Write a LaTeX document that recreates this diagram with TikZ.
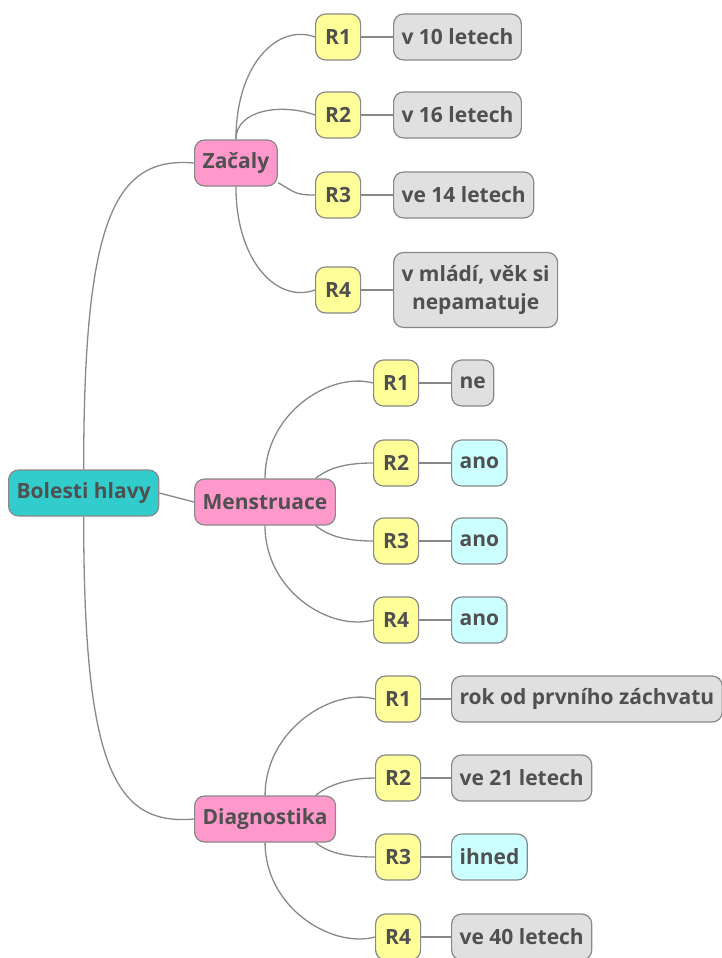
\documentclass[tikz,border=0pt]{standalone}
\usepackage{fontspec}
\setmainfont{Open Sans}
\definecolor{rootfill}{HTML}{33CCCC}
\definecolor{catfill}{HTML}{FF99CC}
\definecolor{rfill}{HTML}{FFFF99}
\definecolor{valfill}{HTML}{E0E0E0}
\definecolor{yesfill}{HTML}{CCFFFF}
\definecolor{edgegray}{HTML}{888888}
\definecolor{txtgray}{HTML}{505050}
\tikzset{
  box/.style={draw=edgegray, line width=1.2pt, rounded corners=10pt,
    font=\fontsize{21}{28}\selectfont\bfseries, text=txtgray,
    minimum height=46pt, inner xsep=8pt, inner ysep=4pt, anchor=west},
  rootbox/.style={box, fill=rootfill},
  catbox/.style={box, fill=catfill},
  rbox/.style={box, fill=rfill, minimum width=45pt},
  valbox/.style={box, fill=valfill},
  yesbox/.style={box, fill=yesfill},
  link/.style={draw=edgegray, line width=1.3pt},
}
\begin{document}
\begin{tikzpicture}[x=1pt, y=1pt]
\useasboundingbox (0,0) rectangle (722,-958);

% root and categories
\node[rootbox] (root) at (8,-493) {Bolesti hlavy};
\node[catbox] (zac) at (194,-163) {Začaly};
\node[catbox] (men) at (194,-502) {Menstruace};
\node[catbox] (dia) at (194,-819) {Diagnostika};

% Začaly
\node[rbox] (z1) at (315,-37) {R1};
\node[rbox] (z2) at (315,-115) {R2};
\node[rbox] (z3) at (315,-195) {R3};
\node[rbox] (z4) at (315,-290) {R4};
\node[valbox] (zv1) at (393,-37) {v 10 letech};
\node[valbox] (zv2) at (393,-115) {v 16 letech};
\node[valbox] (zv3) at (393,-195) {ve 14 letech};
\node[valbox, align=center, minimum height=75pt] (zv4) at (393,-290) {v mládí, věk si\\nepamatuje};

% Menstruace
\node[rbox] (m1) at (373,-383) {R1};
\node[rbox] (m2) at (373,-463) {R2};
\node[rbox] (m3) at (373,-541) {R3};
\node[rbox] (m4) at (373,-620) {R4};
\node[valbox] (mv1) at (451,-383) {ne};
\node[yesbox] (mv2) at (451,-463) {ano};
\node[yesbox] (mv3) at (451,-541) {ano};
\node[yesbox] (mv4) at (451,-620) {ano};

% Diagnostika
\node[rbox] (d1) at (375,-699) {R1};
\node[rbox] (d2) at (375,-778) {R2};
\node[rbox] (d3) at (375,-857) {R3};
\node[rbox] (d4) at (375,-937) {R4};
\node[valbox] (dv1) at (451,-699) {rok od prvního záchvatu};
\node[valbox] (dv2) at (451,-778) {ve 21 letech};
\node[yesbox] (dv3) at (451,-857) {ihned};
\node[valbox] (dv4) at (451,-937) {ve 40 letech};

% root branches
\draw[link] (root.north) to[out=90, in=175, out distance=250pt, in distance=80pt] (zac.west);
\draw[link] (root.east) -- (men.west);
\draw[link] (root.south) to[out=-90, in=185, out distance=250pt, in distance=80pt] (dia.west);

% Začaly branches
\draw[link] (zac.north) to[out=90, in=160, out distance=75pt, in distance=40pt] (z1.west);
\draw[link] (zac.north) to[out=90, in=160, out distance=30pt, in distance=35pt] (z2.west);
\draw[link] (zac.-25) to[out=-30, in=180, out distance=20pt, in distance=20pt] (z3.west);
\draw[link] (zac.south) to[out=-90, in=200, out distance=75pt, in distance=40pt] (z4.west);

% Menstruace branches
\draw[link] (men.north) to[out=90, in=165, out distance=65pt, in distance=45pt] (m1.west);
\draw[link] (men.25) to[out=40, in=180, out distance=20pt, in distance=20pt] (m2.west);
\draw[link] (men.-25) to[out=-40, in=180, out distance=20pt, in distance=20pt] (m3.west);
\draw[link] (men.south) to[out=-90, in=195, out distance=65pt, in distance=45pt] (m4.west);

% Diagnostika branches
\draw[link] (dia.north) to[out=90, in=165, out distance=65pt, in distance=45pt] (d1.west);
\draw[link] (dia.25) to[out=40, in=180, out distance=20pt, in distance=20pt] (d2.west);
\draw[link] (dia.-25) to[out=-40, in=180, out distance=20pt, in distance=20pt] (d3.west);
\draw[link] (dia.south) to[out=-90, in=195, out distance=65pt, in distance=45pt] (d4.west);

% answers
\foreach \a/\b in {z1/zv1, z2/zv2, z3/zv3, z4/zv4, m1/mv1, m2/mv2, m3/mv3, m4/mv4,
                   d1/dv1, d2/dv2, d3/dv3, d4/dv4}
  \draw[link] (\a.east) -- (\b.west);
\end{tikzpicture}
\end{document}
